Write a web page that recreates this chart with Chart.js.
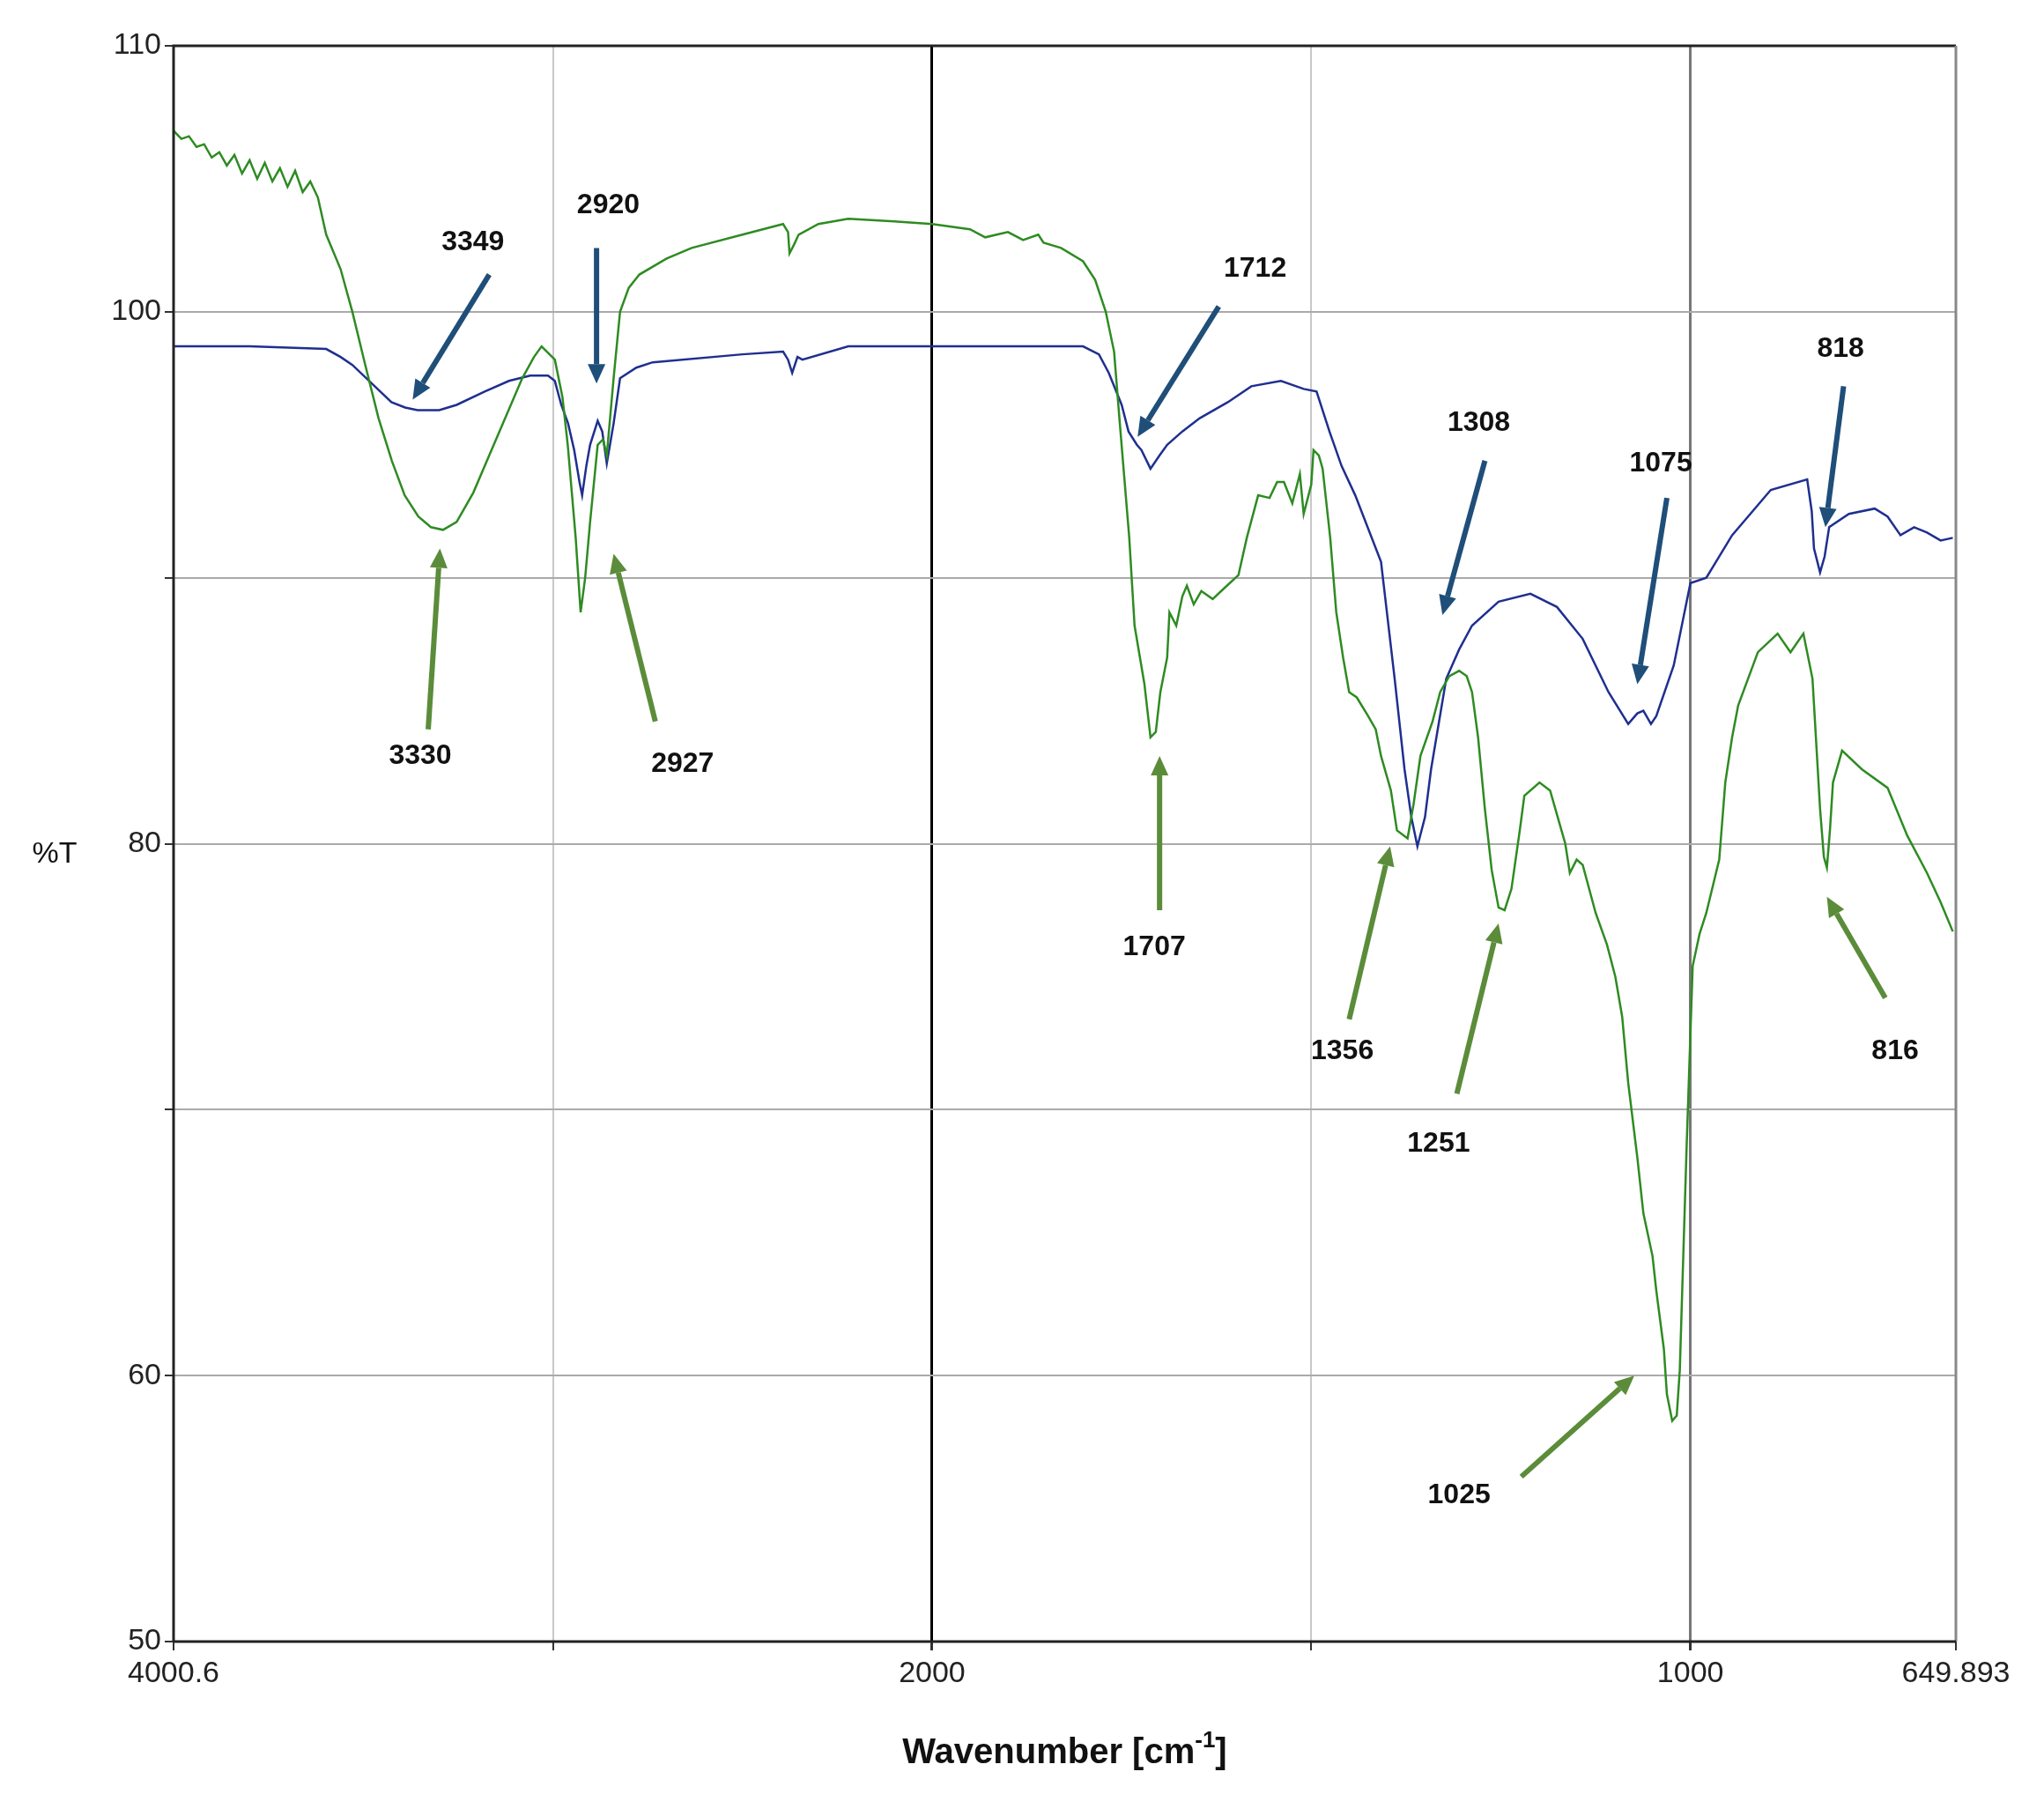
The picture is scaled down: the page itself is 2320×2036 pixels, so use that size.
<!DOCTYPE html>
<html><head><meta charset="utf-8">
<script src="https://cdn.jsdelivr.net/npm/chart.js@4/dist/chart.umd.min.js"></script>
<style>html,body{margin:0;padding:0;background:#fff}</style>
</head><body>
<canvas id="c" width="2320" height="2036"></canvas>
<script>
const greenWave = [4000,3980,3960,3940,3920,3900,3880,3860,3840,3820,3800,3780,3760,3740,3720,3700,3680,3660,3640,3620,3598,3560,3529,3495,3460,3425,3391,3355,3322,3290,3254,3210,3168,3120,3081,3050,3030,2995,2975,2961,2940,2927,2915,2902,2882,2868,2858,2840,2823,2800,2772,2700,2634,2500,2393,2380,2376,2365,2352,2300,2221,2100,2000,1950,1930,1900,1880,1860,1853,1830,1801,1785,1771,1760,1753,1740,1733,1720,1712,1705,1699,1690,1687,1678,1670,1664,1655,1645,1630,1615,1596,1585,1570,1555,1545,1536,1525,1515,1510,1500,1497,1490,1485,1475,1467,1458,1450,1440,1425,1415,1408,1395,1387,1373,1365,1356,1340,1330,1318,1305,1295,1288,1280,1271,1262,1253,1245,1236,1225,1219,1199,1185,1176,1165,1159,1150,1142,1125,1110,1099,1090,1082,1070,1062,1050,1045,1035,1031,1024,1018,1014,1005,997,988,979,962,954,945,937,911,885,868,851,839,829,824,820,816,812,800,774,740,714,688,670,654];
const greenT = [106.8,106.5,106.6,106.2,106.3,105.8,106.0,105.5,105.9,105.2,105.7,105.0,105.6,104.9,105.4,104.7,105.3,104.5,104.9,104.3,102.9,101.6,100.0,98.0,96.0,94.4,93.1,92.3,91.9,91.8,92.1,93.2,94.6,96.2,97.5,98.3,98.7,98.2,96.8,95.0,91.5,88.7,90.0,92.1,95.0,95.2,94.6,97.5,100.0,100.9,101.4,102.0,102.4,102.9,103.3,103.0,102.2,102.5,102.9,103.3,103.5,103.4,103.3,103.1,102.8,103.0,102.7,102.9,102.6,102.4,101.9,101.2,100.0,98.5,96.0,91.5,88.2,86.0,84.0,84.2,85.7,87.0,88.7,88.2,89.3,89.7,89.0,89.5,89.2,89.6,90.1,91.5,93.1,93.0,93.6,93.6,92.8,93.9,92.4,93.5,94.8,94.6,94.1,91.5,88.7,87.0,85.7,85.5,84.8,84.3,83.3,82.0,80.5,80.2,81.5,83.3,84.6,85.7,86.3,86.5,86.3,85.7,84.0,81.3,79.0,77.6,77.5,78.3,80.5,81.8,82.3,82.0,81.1,80.0,78.9,79.4,79.2,77.4,76.2,75.0,73.5,71.0,68.2,66.1,64.5,63.2,61.0,59.3,58.3,58.5,60.2,68.6,75.4,76.6,77.4,79.4,82.3,84.0,85.2,87.2,87.9,87.2,87.9,86.2,81.3,79.5,79.1,80.5,82.3,83.5,82.8,82.1,80.3,78.9,77.8,76.7];
const blueWave = [4000,3800,3598,3560,3529,3470,3426,3390,3357,3300,3254,3180,3116,3060,3013,2995,2978,2960,2944,2930,2923,2912,2902,2882,2870,2858,2840,2823,2780,2737,2500,2393,2380,2369,2355,2342,2221,2000,1801,1780,1767,1750,1741,1730,1724,1712,1700,1690,1670,1647,1610,1579,1540,1510,1493,1476,1460,1442,1408,1390,1377,1368,1360,1350,1342,1322,1305,1288,1253,1211,1176,1142,1108,1082,1070,1062,1052,1045,1022,1000,979,945,894,846,840,837,829,823,817,791,757,740,723,705,688,670,654];
const blueT = [98.7,98.7,98.6,98.3,98.0,97.2,96.6,96.4,96.3,96.3,96.5,97.0,97.4,97.6,97.6,97.4,96.5,95.8,94.8,93.6,93.1,94.2,95.0,95.9,95.5,94.3,95.8,97.5,97.9,98.1,98.4,98.5,98.2,97.7,98.3,98.2,98.7,98.7,98.7,98.4,97.7,96.5,95.5,95.0,94.8,94.1,94.6,95.0,95.5,96.0,96.6,97.2,97.4,97.1,97.0,95.5,94.2,93.1,90.6,86.2,82.8,81.0,79.9,81.0,82.8,86.2,87.3,88.2,89.1,89.4,88.9,87.7,85.7,84.5,84.9,85.0,84.5,84.8,86.7,89.8,90.0,91.6,93.3,93.7,92.5,91.1,90.2,90.8,91.9,92.4,92.6,92.3,91.6,91.9,91.7,91.4,91.5];
const xTickWaves = [4000.6,3000,2000,1500,1000,649.893];
const xTickLabels = ['4000.6','','2000','','1000','649.893'];
const yTickLabels = {110:'110',100:'100',90:'',80:'80',70:'',60:'60',50:'50'};
const blueLabels = [
 {t:'3349',at:[3211,102.6],from:[3168,101.4],to:[3370,96.7]},
 {t:'2920',at:[2854,104],from:[2885,102.4],to:[2885,97.3]},
 {t:'1712',at:[1574,101.6],from:[1622,100.2],to:[1729,95.3]},
 {t:'1308',at:[1279,95.8],from:[1271,94.4],to:[1327,88.6]},
 {t:'1075',at:[1039,94.3],from:[1031,93.0],to:[1070,86.0]},
 {t:'818',at:[802,98.6],from:[798,97.2],to:[822,91.9]}];
const greenLabels = [
 {t:'3330',at:[3350,83.3],from:[3329,84.3],to:[3298,91.1]},
 {t:'2927',at:[2658,83.0],from:[2730,84.6],to:[2840,90.9]},
 {t:'1707',at:[1707,76.1],from:[1700,77.5],to:[1700,83.3]},
 {t:'1356',at:[1459,72.2],from:[1450,73.4],to:[1396,79.9]},
 {t:'1251',at:[1332,68.7],from:[1308,70.6],to:[1253,77.0]},
 {t:'1025',at:[1305,55.5],from:[1223,56.2],to:[1074,60.0]},
 {t:'816',at:[730,72.2],from:[743,74.2],to:[820,78.0]}];

const toU = w => w>=2000 ? (4000.6-w)/2 : 1000.3+(2000-w);
const pts = (ws,ts)=>ws.map((w,i)=>({x:toU(w),y:ts[i]}));
const BLUE='#1f2f8f', GREEN='#2e8b22', BLUEA='#1f4e79', GREENA='#5b8c3a';

const annot = {id:'annot', afterDraw(ch){
  const c=ch.ctx, xs=ch.scales.x, ys=ch.scales.y, a=ch.chartArea;
  const P=p=>[xs.getPixelForValue(toU(p[0])), ys.getPixelForValue(p[1])];
  c.save();
  c.strokeStyle='#222'; c.lineWidth=3;
  c.beginPath(); c.moveTo(a.left,a.bottom); c.lineTo(a.left,a.top); c.lineTo(a.right,a.top); c.stroke();
  c.strokeStyle='#888'; c.beginPath(); c.moveTo(a.right,a.top); c.lineTo(a.right,a.bottom); c.stroke();
  c.strokeStyle='#222'; c.beginPath(); c.moveTo(a.left,a.bottom); c.lineTo(a.right,a.bottom); c.stroke();
  const draw=(list,col)=>list.forEach(l=>{
    const [fx,fy]=P(l.from),[tx,ty]=P(l.to);
    const ang=Math.atan2(ty-fy,tx-fx), hl=22, hw=10;
    const bx=tx-hl*Math.cos(ang), by=ty-hl*Math.sin(ang);
    c.strokeStyle=col; c.fillStyle=col; c.lineWidth=6;
    c.beginPath(); c.moveTo(fx,fy); c.lineTo(bx,by); c.stroke();
    c.beginPath(); c.moveTo(tx,ty);
    c.lineTo(bx+hw*Math.sin(ang),by-hw*Math.cos(ang));
    c.lineTo(bx-hw*Math.sin(ang),by+hw*Math.cos(ang)); c.closePath(); c.fill();
    const [lx,ly]=P(l.at);
    c.fillStyle='#111'; c.font='bold 32px "Liberation Sans", Arial'; c.textAlign='center'; c.textBaseline='middle';
    c.fillText(l.t,lx,ly);
  });
  draw(blueLabels,BLUEA); draw(greenLabels,GREENA);
  c.fillStyle='#111'; c.font='34px "Liberation Sans", Arial'; c.textAlign='center'; c.textBaseline='middle';
  c.fillText('%T',62,ys.getPixelForValue(79.6));
  c.font='bold 40px "Liberation Sans", Arial';
  const t1='Wavenumber [cm', t2='-1', t3=']';
  const w1=c.measureText(t1).width, w3=c.measureText(t3).width;
  c.font='bold 26px "Liberation Sans", Arial'; const w2=c.measureText(t2).width;
  let x0=(a.left+a.right)/2 - (w1+w2+w3)/2, y0=1990;
  c.textAlign='left'; c.font='bold 40px "Liberation Sans", Arial'; c.fillText(t1,x0,y0);
  c.font='bold 26px "Liberation Sans", Arial'; c.fillText(t2,x0+w1,y0-14);
  c.font='bold 40px "Liberation Sans", Arial'; c.fillText(t3,x0+w1+w2,y0);
  c.restore();
}};

new Chart(document.getElementById('c'),{
 type:'line',
 data:{datasets:[
  {data:pts(greenWave,greenT),borderColor:GREEN,borderWidth:2.5,pointRadius:0,tension:0},
  {data:pts(blueWave,blueT),borderColor:BLUE,borderWidth:2.5,pointRadius:0,tension:0}]},
 options:{responsive:false,devicePixelRatio:1,animation:false,
  layout:{padding:{top:52,right:100,left:0,bottom:0}},
  plugins:{legend:{display:false},tooltip:{enabled:false}},
  scales:{
   x:{type:'linear',min:0,max:toU(649.893),
    afterBuildTicks:s=>{s.ticks=xTickWaves.map(w=>({value:toU(w)}));},
    afterFit:s=>{s.height=173;},
    grid:{color:ctx=>{const v=ctx.tick&&ctx.tick.value; if(Math.abs(v-toU(2000))<1)return '#000'; if(Math.abs(v-toU(1000))<1)return '#777'; return '#c8c8c8';},
      lineWidth:ctx=>{const v=ctx.tick&&ctx.tick.value; return (Math.abs(v-toU(2000))<1||Math.abs(v-toU(1000))<1)?3:2;},
      tickLength:10,tickColor:'#333'},
    border:{display:false},
    ticks:{autoSkip:false,maxRotation:0,color:'#222',font:{size:34,family:'"Liberation Sans", Arial'},padding:6,
      callback:(v,i)=>xTickLabels[i]}},
   y:{min:50,max:110,
    afterBuildTicks:s=>{s.ticks=[50,60,70,80,90,100,110].map(v=>({value:v}));},
    afterFit:s=>{s.width=197;},
    grid:{color:'#aaaaaa',lineWidth:2,tickLength:10,tickColor:'#333'},
    border:{display:false},
    ticks:{color:'#222',font:{size:34,family:'"Liberation Sans", Arial'},padding:4,
      callback:v=>yTickLabels[v]}}}
 },
 plugins:[annot]
});
</script>
</body></html>
